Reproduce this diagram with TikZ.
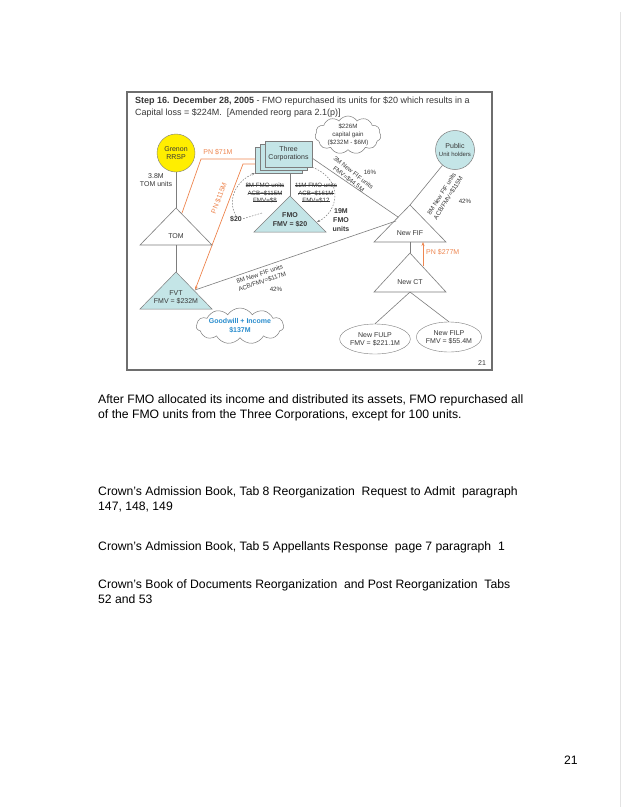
\documentclass[tikz,border=0pt]{standalone}
\usepackage{fontspec}
\setmainfont{Liberation Sans}
\usetikzlibrary{calc,shapes.symbols,shapes.geometric,arrows.meta}

\definecolor{boxfill}{RGB}{196,229,231}
\definecolor{rrspyellow}{RGB}{255,238,0}
\definecolor{pnorange}{RGB}{238,134,80}
\definecolor{linegray}{RGB}{125,125,125}
\definecolor{framegray}{RGB}{110,110,110}
\definecolor{textgray}{RGB}{55,55,55}
\definecolor{gwblue}{RGB}{40,140,205}

% struck-out text
\newcommand{\strk}[1]{\leavevmode\setbox0=\hbox{#1}\rlap{\rule[0.3em]{\wd0}{0.4pt}}\box0}

\begin{document}
\begin{tikzpicture}[x=1pt,y=-1pt,
    lbl/.style={font=\fontsize{7}{8.2}\selectfont, text=textgray, align=center, inner sep=0pt},
    boldlbl/.style={font=\bfseries\fontsize{7}{8.6}\selectfont, text=textgray, align=center, inner sep=0pt},
    smalllbl/.style={font=\fontsize{6.2}{7.8}\selectfont, text=textgray, align=center, inner sep=0pt},
    linkline/.style={draw=linegray, line width=0.6pt},
    pnline/.style={draw=pnorange, line width=0.7pt},
    dashlink/.style={draw=linegray, dash pattern=on 1.6pt off 1.4pt, line width=0.5pt},
    unitfill/.style={draw=linegray, fill=boxfill, line width=0.5pt},
    corpbox/.style={unitfill, minimum width=47pt, minimum height=26pt},
    puffcloud/.style={cloud, cloud puffs=11, cloud puff arc=115, cloud ignores aspect, draw=linegray, line width=0.5pt},
    pagetext/.style={font=\fontsize{12.2}{15.8}\selectfont, align=left, anchor=north west, inner sep=0pt}]

    % Page
    \fill[white] (0,0) rectangle (623,807);
    \useasboundingbox (0,0) rectangle (623,807);
    \draw[gray!22, line width=0.8pt] (620,12) -- (620,807);

    % Slide frame and title
    \draw[framegray, line width=1.3pt] (127,92) rectangle (492,370);
    \node[anchor=north west, inner sep=0pt, align=left, font=\fontsize{9}{12}\selectfont, text=textgray] (title) at (135,97)
        {\textbf{Step 16. December 28, 2005} - FMO repurchased its units for \$20 which results in a\\Capital loss = \$224M.\ \ [Amended reorg para 2.1(p)]};

    % Orange notes (behind the boxes)
    \coordinate (tom-pn) at (182,213);
    \coordinate (pn71-bend) at (201,159);
    \coordinate (pn115-bend) at (243,164);
    \coordinate (fvt-e) at (195,290);
    \node[lbl, corpbox] (corp3) at (278.5,160) {};
    \draw[pnline] (tom-pn) -- (pn71-bend) -- (pn71-bend -| corp3.west);
    \draw[pnline, -{Stealth[length=4pt,width=3pt]}] (pn115-bend -| corp3.west) -- (pn115-bend) -- (fvt-e);
    \node[lbl, text=pnorange] (pn71) at (218,152) {PN \$71M};
    \node[lbl, text=pnorange, rotate=69] (pn115) at (219,198) {PN \$115M};

    % Three Corporations
    \node[lbl, corpbox] (corp2) at (283.5,157) {};
    \node[lbl, corpbox] (corp) at (288.5,154) {Three\\Corporations};

    % Grenon RRSP and TOM
    \node[lbl, circle, draw=linegray, fill=rrspyellow, minimum size=38pt] (grenon) at (176,153) {Grenon\\RRSP};
    \node[lbl] (tom-units) at (156,180) {3.8M\\TOM units};
    \coordinate (tom-top) at (176,208);
    \coordinate (tom-base) at (176,245);
    \draw[linkline] (grenon) -- (tom-top);
    \draw[linkline] (tom-top) -- (140,245) -- (212,245) -- cycle;
    \node[lbl] (tom) at (176,236) {TOM};

    % FVT
    \coordinate (fvt-top) at (176,272);
    \draw[linkline] (tom-base) -- (fvt-top);
    \draw[unitfill] (fvt-top) -- (140,309) -- (212,309) -- cycle;
    \node[lbl] (fvt) at (176,297) {FVT\\FMV = \$232M};
    \node[boldlbl, puffcloud, text=gwblue, minimum width=84pt, minimum height=36pt] (goodwill) at (240,326) {Goodwill + Income\\\$137M};

    % FMO
    \coordinate (fmo-top) at (290,196);
    \coordinate (fmo-w) at (262,213);
    \coordinate (fmo-e) at (317,222);
    \draw[linkline] (corp3.south -| fmo-top) -- (fmo-top);
    \draw[unitfill] (fmo-top) -- (254,232) -- (326,232) -- cycle;
    \node[boldlbl] (fmo) at (290,220) {FMO\\FMV = \$20};
    \node[smalllbl] (old-left) at (265,193) {\strk{8M FMO units}\\\strk{ACB=\$115M}\\\strk{FMV=\$8}};
    \node[smalllbl] (old-right) at (316,193) {\strk{11M FMO units}\\\strk{ACB=\$161M}\\\strk{FMV=\$12}};
    \node[boldlbl] (pay20) at (236,219) {\$20};
    \node[boldlbl] (moved) at (341,220) {19M\\FMO\\units};
    \draw[dashlink] (fmo-w) -- (pay20.east);
    \draw[dashlink, -{Stealth[length=3pt,width=2.5pt]}] (pay20.north) .. controls (226,198) and (238,180) .. (corp3.south west);
    \draw[dashlink, -{Stealth[length=3pt,width=2.5pt]}] (corp.south east) .. controls (345,180) and (338,212) .. (fmo-e);

    % Capital gain cloud
    \node[smalllbl, puffcloud, minimum width=66pt, minimum height=36pt] (gain) at (348,135) {\$226M\\capital gain\\(\$232M - \$6M)};

    % New FIF and Public
    \coordinate (nfif-top) at (410,205);
    \coordinate (nfif-base) at (410,242);
    \coordinate (nfif-w) at (396,221);
    \coordinate (nfif-nw) at (398,217);
    \coordinate (corp-e) at (312,158);
    \node[lbl, circle, unitfill, minimum size=39pt] (public) at (455,150) {Public\\{\fontsize{6}{7}\selectfont Unit holders}};
    \draw[linkline] (public) -- (nfif-top);
    \draw[linkline] (corp-e) -- (nfif-nw);
    \draw[linkline] (fvt-e) -- (nfif-w);
    \draw[linkline] (nfif-top) -- (374,242) -- (446,242) -- cycle;
    \node[lbl] (nfif) at (410,233) {New FIF};

    \node[smalllbl, rotate=-38] (fif3) at (351,176) {3M New FIF units\\FMV=\$44.5M};
    \node[smalllbl] (pct16) at (370,172) {16\%};
    \node[smalllbl, rotate=18.5] (fif8) at (261,278) {8M New FIF units\\ACB/FMV=\$117M};
    \node[smalllbl] (pct42a) at (276,289) {42\%};
    \node[smalllbl, rotate=58] (fif8p) at (445,196) {8M New FIF units\\ACB/FMV=\$115M};
    \node[smalllbl] (pct42b) at (465,201) {42\%};

    % New CT
    \coordinate (nct-top) at (410,253);
    \coordinate (nct-base) at (410,292);
    \coordinate (nct-pn) at (423,266);
    \draw[linkline] (nfif-base) -- (nct-top);
    \draw[linkline] (nct-top) -- (374,292) -- (446,292) -- cycle;
    \node[lbl] (nct) at (410,282) {New CT};
    \draw[pnline, -{Stealth[length=4pt,width=3pt]}] (nct-pn) -- (nct-pn |- nfif-base);
    \node[lbl, text=pnorange, anchor=west] (pn277) at (426,252) {PN \$277M};

    % New FULP and New FILP
    \node[lbl, ellipse, draw=linegray, minimum width=64pt, minimum height=30pt] (fulp) at (375,339) {New FULP\\FMV = \$221.1M};
    \node[lbl, ellipse, draw=linegray, minimum width=62pt, minimum height=30pt] (filp) at (449,337) {New FILP\\FMV = \$55.4M};
    \draw[linkline] (nct-base) -- (fulp.north);
    \draw[linkline] (nct-base) -- (filp.north);
    \node[lbl] (slide-no) at (482,363) {21};

    % Page text
    \node[pagetext] (note) at (98,394) {After FMO allocated its income and distributed its assets, FMO repurchased all\\of the FMO units from the Three Corporations, except for 100 units.};
    \node[pagetext] (ref1) at (98,486) {Crown's Admission Book, Tab 8 Reorganization\ \ Request to Admit\ \ paragraph\\147, 148, 149};
    \node[pagetext] (ref2) at (98,541) {Crown's Admission Book, Tab 5 Appellants Response\ \ page 7 paragraph\ \ 1};
    \node[pagetext] (ref3) at (98,579) {Crown's Book of Documents Reorganization\ \ and Post Reorganization\ \ Tabs\\52 and 53};
    \node[pagetext] (page-no) at (564,756) {21};
\end{tikzpicture}
\end{document}
